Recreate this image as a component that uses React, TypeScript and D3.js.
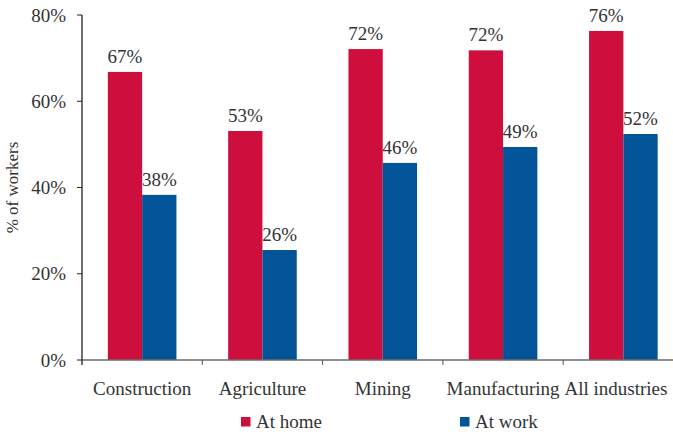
import React from "react";
import * as d3 from "d3";

const categories = ["Construction", "Agriculture", "Mining", "Manufacturing", "All industries"];
const atHome = [66.8, 53.1, 72.1, 71.8, 76.3];
const atWork = [38.3, 25.5, 45.7, 49.4, 52.4];
const homeLabels = ["67%", "53%", "72%", "72%", "76%"];
const workLabels = ["38%", "26%", "46%", "49%", "52%"];
const yTicks = [0, 20, 40, 60, 80];
const seriesNames = ["At home", "At work"];

const RED = "#CE0F3E";
const BLUE = "#015497";
const txt = { fontFamily: `"Liberation Serif"` };

export default function App() {
  const W = 673, H = 434;
  const x0 = 82, x1 = 683.5, y0 = 360, yTop = 15;
  const x = d3.scaleBand<string>().domain(categories).range([x0, x1]).paddingInner(0).paddingOuter(0);
  const y = d3.scaleLinear().domain([0, 80]).range([y0, yTop]);
  const bw = x.bandwidth();
  const barW = 34.3;
  const sub = d3.scaleBand<string>().domain(seriesNames).range([bw / 2 - barW, bw / 2 + barW]);
  const series = [
    { name: seriesNames[0], vals: atHome, labels: homeLabels, color: RED },
    { name: seriesNames[1], vals: atWork, labels: workLabels, color: BLUE },
  ];
  const labelX = (c: string) => Math.min((x(c) as number) + bw / 2, 616);
  return (
    <svg width={W} height={H} style={{ position: "absolute", left: 0, top: 0, background: "#fff" }}>
      {series.map((s) =>
        categories.map((c, i) => {
          const bx = (x(c) as number) + (sub(s.name) as number);
          return (
            <g key={s.name + c}>
              <rect x={bx} y={y(s.vals[i])} width={sub.bandwidth()} height={y0 - y(s.vals[i])} fill={s.color} />
              <text style={txt} x={bx + sub.bandwidth() / 2} y={y(s.vals[i]) - 9} textAnchor="middle" fontSize={19} fill="#333">
                {s.labels[i]}
              </text>
            </g>
          );
        })
      )}
      <line x1={x0} x2={x1} y1={y0} y2={y0} stroke="#6b6b6b" strokeWidth={1.3} />
      {categories.map((c) => (
        <line key={"t" + c} x1={(x(c) as number) + bw} x2={(x(c) as number) + bw} y1={y0} y2={y0 + 5} stroke="#555" strokeWidth={1} />
      ))}
      {categories.map((c) => (
        <text style={txt} key={"l" + c} x={labelX(c)} y={395} textAnchor="middle" fontSize={19} fill="#333">
          {c}
        </text>
      ))}
      <line x1={x0} x2={x0} y1={yTop} y2={y0 + 5} stroke="#222" strokeWidth={1.3} />
      {yTicks.map((t) => (
        <g key={"y" + t}>
          <line x1={x0 - 5} x2={x0} y1={y(t)} y2={y(t)} stroke="#222" strokeWidth={1} />
          <text style={txt} x={66} y={y(t)} dy="0.35em" textAnchor="end" fontSize={19} fill="#333">
            {t + "%"}
          </text>
        </g>
      ))}
      <text style={txt} transform={`translate(18,${(y0 + yTop) / 2}) rotate(-90)`} textAnchor="middle" fontSize={17} fill="#333">
        % of workers
      </text>
      {series.map((s, i) => {
        const lx = i === 0 ? 241 : 460;
        return (
          <g key={"lg" + s.name}>
            <rect x={lx} y={417} width={9.5} height={9.5} fill={s.color} />
            <text style={txt} x={lx + 15} y={428} fontSize={19} fill="#333">
              {s.name}
            </text>
          </g>
        );
      })}
    </svg>
  );
}
